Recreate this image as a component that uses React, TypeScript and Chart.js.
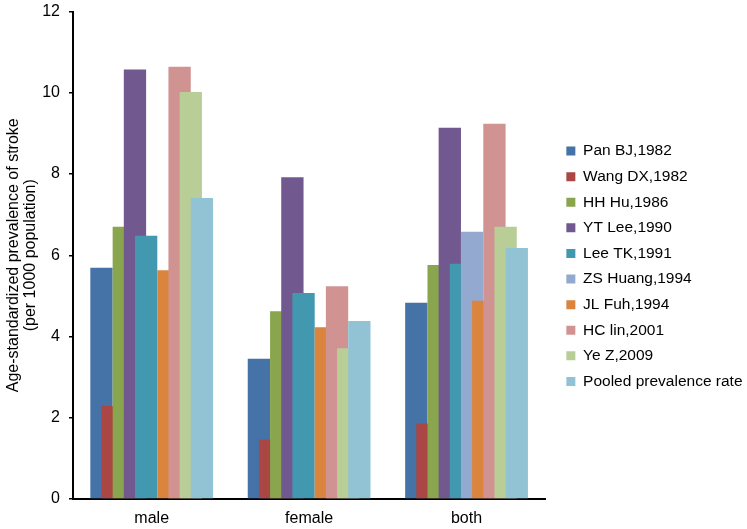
import React, { useEffect, useRef } from "react";
import { Chart, registerables } from "chart.js";

Chart.register(...registerables);

const categories = ["male", "female", "both"];

const seriesNames = [
  "Pan BJ,1982",
  "Wang DX,1982",
  "HH Hu,1986",
  "YT Lee,1990",
  "Lee TK,1991",
  "ZS Huang,1994",
  "JL Fuh,1994",
  "HC lin,2001",
  "Ye Z,2009",
  "Pooled prevalence rate",
];

const panBJ = [5.69, 3.45, 4.83];
const wangDX = [2.29, 1.46, 1.86];
const hhHu = [6.7, 4.62, 5.76];
const ytLee = [10.57, 7.92, 9.14];
const leeTK = [6.48, 5.07, 5.79];
const zsHuang = [null, null, 6.58];
const jlFuh = [5.63, 4.23, 4.88];
const hcLin = [10.64, 5.24, 9.24];
const yeZ = [10.02, 3.71, 6.7];
const pooled = [7.41, 4.38, 6.18];

const seriesValues = [panBJ, wangDX, hhHu, ytLee, leeTK, zsHuang, jlFuh, hcLin, yeZ, pooled];

const seriesColors = [
  "#4572A7",
  "#AA4643",
  "#89A54E",
  "#71588F",
  "#4198AF",
  "#93A9CF",
  "#DB843D",
  "#D19392",
  "#B9CD96",
  "#92C3D5",
];

const yTitle = ["Age-standardized prevalence of stroke", "(per 1000 population)"];

const FONT = "'Liberation Sans', Arial, Helvetica, sans-serif";
const LEGEND_DX = 11;
const LEGEND_DY = -4;
const Y_AXIS_WIDTH = 73;
const X_AXIS_HEIGHT = 30;

// Draw datasets in forward order so later series overlap earlier ones (Excel overlap style)
const forwardDraw = {
  id: "forwardDraw",
  beforeDatasetsDraw(chart: any) {
    const metas = chart.getSortedVisibleDatasetMetas();
    for (const meta of metas) meta.controller.draw();
    return false;
  },
};

const legendShift = {
  id: "legendShift",
  afterLayout(chart: any) {
    const lg = chart.legend;
    if (!lg) return;
    lg.left += LEGEND_DX;
    lg.right = chart.width;
    lg.width = lg.right - lg.left;
    lg.top += LEGEND_DY;
    lg.bottom += LEGEND_DY;
  },
};

export default function App() {
  const ref = useRef<HTMLCanvasElement | null>(null);

  useEffect(() => {
    if (!ref.current) return;
    const chart = new Chart(ref.current, {
      type: "bar",
      data: {
        labels: categories,
        datasets: seriesNames.map((name, i) => ({
          label: name,
          data: seriesValues[i],
          backgroundColor: seriesColors[i],
          borderWidth: 0,
          categoryPercentage: 0.709,
          barPercentage: 2,
        })),
      },
      options: {
        responsive: false,
        animation: false,
        layout: { padding: { left: 0, top: 11.5, right: 20, bottom: 0 } },
        plugins: {
          tooltip: { enabled: false },
          legend: {
            position: "right",
            align: "center",
            labels: {
              boxWidth: 9,
              boxHeight: 9,
              padding: 10.1,
              color: "#000",
              textAlign: "left",
              font: { family: FONT, size: 15.5 },
            },
          },
        },
        scales: {
          x: {
            grid: { display: false, drawTicks: false },
            border: { display: true, color: "#000", width: 2 },
            ticks: { color: "#000", padding: 10, font: { family: FONT, size: 16 } },
            afterFit(scale: any) {
              scale.height = X_AXIS_HEIGHT;
            },
          },
          y: {
            min: 0,
            max: 12,
            ticks: { stepSize: 2, color: "#000", padding: 9, font: { family: FONT, size: 16 } },
            grid: { drawOnChartArea: false, drawTicks: true, tickLength: 4, color: "#000", lineWidth: 1.5 },
            border: { display: true, color: "#000", width: 2 },
            title: {
              display: true,
              text: yTitle,
              color: "#000",
              padding: { top: 5.5, bottom: 0 },
              font: { family: FONT, size: 16, lineHeight: 1.0625 },
            },
            afterFit(scale: any) {
              scale.width = Y_AXIS_WIDTH;
              scale.paddingTop = 0;
              scale.paddingBottom = 0;
            },
          },
        },
      },
      plugins: [forwardDraw, legendShift],
    });
    return () => chart.destroy();
  }, []);

  return (
    <div style={{ position: "fixed", left: 0, top: 0, width: 747, height: 529, background: "#fff" }}>
      <canvas ref={ref} width={747} height={529} style={{ display: "block" }} />
    </div>
  );
}
